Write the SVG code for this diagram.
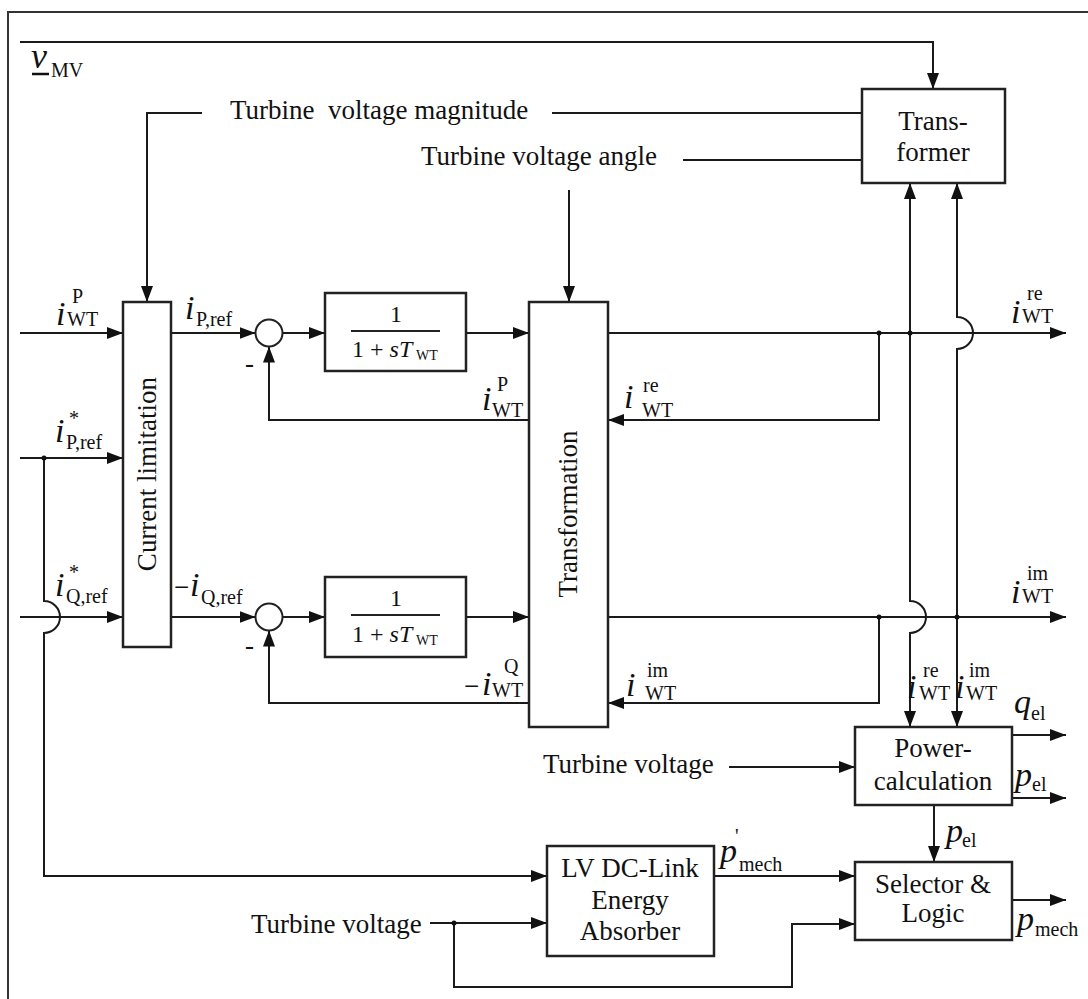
<svg xmlns="http://www.w3.org/2000/svg" width="1088" height="999" viewBox="0 0 1088 999">
<style>
.t{font-family:"Liberation Serif","Times New Roman",serif;font-size:27px;fill:#111}
.m{font-style:italic;font-size:34px}
.s{font-size:20px}
.f{font-size:24px}
.fs{font-size:14px}
.c{text-anchor:middle}
.ln{fill:none;stroke:#1a1a1a;stroke-width:2}
.ar{marker-end:url(#arr)}
.box{fill:#fff;stroke:#222;stroke-width:2.5}
.dot{fill:#111}
</style>
<defs>
<marker id="arr" markerUnits="userSpaceOnUse" markerWidth="16" markerHeight="12" refX="16" refY="6" orient="auto"><path d="M0,0 L16,6 L0,12 z" fill="#111"/></marker>
</defs>
<rect x="0" y="0" width="1088" height="999" fill="#fff"/>
<rect x="8" y="12" width="1100" height="1000" fill="none" stroke="#333" stroke-width="2"/>

<g id="connectors">
<path class="ln ar" d="M20,42 H933 V89"/>
<path class="ln ar" d="M202,113 H147 V302"/>
<path class="ln" d="M552,113 H862"/>
<path class="ln" d="M683,160 H862"/>
<path class="ln ar" d="M569,190 V302"/>
<path class="ln ar" d="M20,333 H123"/>
<path class="ln ar" d="M171,333 H255.5"/>
<path class="ln ar" d="M282.5,333 H325"/>
<path class="ln ar" d="M466,333 H529"/>
<path class="ln ar" d="M608,333 H1066"/>
<path class="ln ar" d="M879,333 V420 H608"/>
<path class="ln ar" d="M529,420 H269 V346.5"/>
<path class="ln ar" d="M20,458 H123"/>
<path class="ln ar" d="M44,458 V601 A16,16 0 0 1 44,633 V876 H547"/>
<path class="ln ar" d="M20,617 H123"/>
<path class="ln ar" d="M171,617 H255.5"/>
<path class="ln ar" d="M282.5,617 H325"/>
<path class="ln ar" d="M466,617 H529"/>
<path class="ln ar" d="M608,617 H1066"/>
<path class="ln ar" d="M879,617 V703 H608"/>
<path class="ln ar" d="M529,703 H269 V630.5"/>
<path class="ln ar" d="M910,333 V183"/>
<path class="ln ar" d="M910,333 V601 A16,16 0 0 1 910,633 V727"/>
<path class="ln ar" d="M957,617 V349 A16,16 0 0 0 957,317 V183"/>
<path class="ln ar" d="M957,617 V727"/>
<path class="ln ar" d="M729,767 H855"/>
<path class="ln ar" d="M1012,735 H1066"/>
<path class="ln ar" d="M1012,798 H1066"/>
<path class="ln ar" d="M934,805 V862"/>
<path class="ln ar" d="M714,876 H855"/>
<path class="ln ar" d="M430,923 H547"/>
<path class="ln ar" d="M454,923 V987 H792 V924 H855"/>
<path class="ln ar" d="M1012,900 H1066"/>
<circle class="dot" cx="879" cy="333" r="2.5"/>
<circle class="dot" cx="910" cy="333" r="2.5"/>
<circle class="dot" cx="879" cy="617" r="2.5"/>
<circle class="dot" cx="957" cy="617" r="2.5"/>
<circle class="dot" cx="44" cy="458" r="2.5"/>
<circle class="dot" cx="454" cy="923" r="2.5"/>
</g>

<g id="transformer">
<rect class="box" x="862" y="89" width="143" height="94"/>
<text class="t c" x="933" y="130">Trans-</text>
<text class="t c" x="933" y="161">former</text>
</g>
<g id="current-limitation">
<rect class="box" x="123" y="302" width="48" height="345"/>
<text class="t c" x="147" y="483" transform="rotate(-90 147 474)">Current limitation</text>
</g>
<g id="transformation">
<rect class="box" x="529" y="302" width="79" height="425"/>
<text class="t c" x="568" y="523" transform="rotate(-90 568 514)">Transformation</text>
</g>
<g id="filter-p">
<rect class="box" x="325" y="293" width="141" height="78"/>
<text class="t f c" x="396" y="322">1</text>
<line x1="351" y1="331" x2="440" y2="331" stroke="#222" stroke-width="2"/>
<text class="t f" x="352" y="357">1 + <tspan font-style="italic">sT</tspan></text>
<text class="t fs" x="416" y="360">WT</text>
</g>
<g id="filter-q">
<rect class="box" x="325" y="577" width="141" height="80"/>
<text class="t f c" x="396" y="606">1</text>
<line x1="351" y1="615" x2="440" y2="615" stroke="#222" stroke-width="2"/>
<text class="t f" x="352" y="642">1 + <tspan font-style="italic">sT</tspan></text>
<text class="t fs" x="416" y="645">WT</text>
</g>
<g id="sum-p">
<circle cx="269" cy="333" r="13.5" fill="#fff" stroke="#222" stroke-width="2"/>
<text class="t" x="245" y="372">-</text>
</g>
<g id="sum-q">
<circle cx="269" cy="617" r="13.5" fill="#fff" stroke="#222" stroke-width="2"/>
<text class="t" x="245" y="654">-</text>
</g>
<g id="power-calculation">
<rect class="box" x="855" y="727" width="157" height="78"/>
<text class="t c" x="933" y="757">Power-</text>
<text class="t c" x="933" y="790">calculation</text>
</g>
<g id="selector-logic">
<rect class="box" x="855" y="862" width="157" height="78"/>
<text class="t c" x="933" y="893">Selector &amp;</text>
<text class="t c" x="933" y="922">Logic</text>
</g>
<g id="lv-dc-link">
<rect class="box" x="547" y="846" width="167" height="110"/>
<text class="t c" x="630" y="877">LV DC-Link</text>
<text class="t c" x="630" y="909">Energy</text>
<text class="t c" x="630" y="940">Absorber</text>
</g>

<g id="labels">
<text class="t m" x="31" y="68" style="font-size:36px">v</text>
<line x1="32" y1="74" x2="49" y2="74" stroke="#111" stroke-width="2.5"/>
<text class="t s" x="51" y="77">MV</text>
<text class="t" x="230" y="119" xml:space="preserve">Turbine  voltage magnitude</text>
<text class="t" x="421" y="165">Turbine voltage angle</text>
<text class="t" x="543" y="773">Turbine voltage</text>
<text class="t" x="251" y="933">Turbine voltage</text>

<text class="t m" x="56" y="325">i</text><text class="t s" x="72" y="303">P</text><text class="t s" x="67" y="326">WT</text>
<text class="t m" x="185" y="319">i</text><text class="t s" x="196" y="326">P,ref</text>
<text class="t m" x="55" y="442">i</text><text class="t s" x="69" y="425">*</text><text class="t s" x="66" y="449">P,ref</text>
<text class="t m" x="55" y="596">i</text><text class="t s" x="69" y="579">*</text><text class="t s" x="66" y="603">Q,ref</text>
<text class="t" x="174" y="596">−</text><text class="t m" x="190" y="596">i</text><text class="t s" x="201" y="604">Q,ref</text>
<text class="t m" x="482" y="410">i</text><text class="t s" x="497" y="391">P</text><text class="t s" x="492" y="417">WT</text>
<text class="t" x="464" y="695">−</text><text class="t m" x="482" y="695">i</text><text class="t s" x="504" y="673">Q</text><text class="t s" x="492" y="697">WT</text>
<text class="t m" x="624" y="408">i</text><text class="t s" x="643" y="392">re</text><text class="t s" x="642" y="417">WT</text>
<text class="t m" x="626" y="696">i</text><text class="t s" x="647" y="677">im</text><text class="t s" x="645" y="700">WT</text>
<text class="t m" x="1011" y="323">i</text><text class="t s" x="1027" y="300">re</text><text class="t s" x="1022" y="323">WT</text>
<text class="t m" x="1011" y="603">i</text><text class="t s" x="1027" y="580">im</text><text class="t s" x="1022" y="603">WT</text>
<text class="t m" x="907" y="698">i</text><text class="t s" x="923" y="677">re</text><text class="t s" x="919" y="700">WT</text>
<text class="t m" x="955" y="698">i</text><text class="t s" x="969" y="677">im</text><text class="t s" x="966" y="700">WT</text>
<text class="t m" x="1014" y="713">q</text><text class="t s" x="1031" y="720">el</text>
<text class="t m" x="1015" y="786">p</text><text class="t s" x="1032" y="791">el</text>
<text class="t m" x="946" y="842">p</text><text class="t s" x="962" y="847">el</text>
<text class="t m" x="1017" y="930">p</text><text class="t s" x="1035" y="936">mech</text>
<text class="t m" x="720" y="862">p</text><text class="t s" x="735" y="843">'</text><text class="t s" x="739" y="871">mech</text>
</g>
</svg>
